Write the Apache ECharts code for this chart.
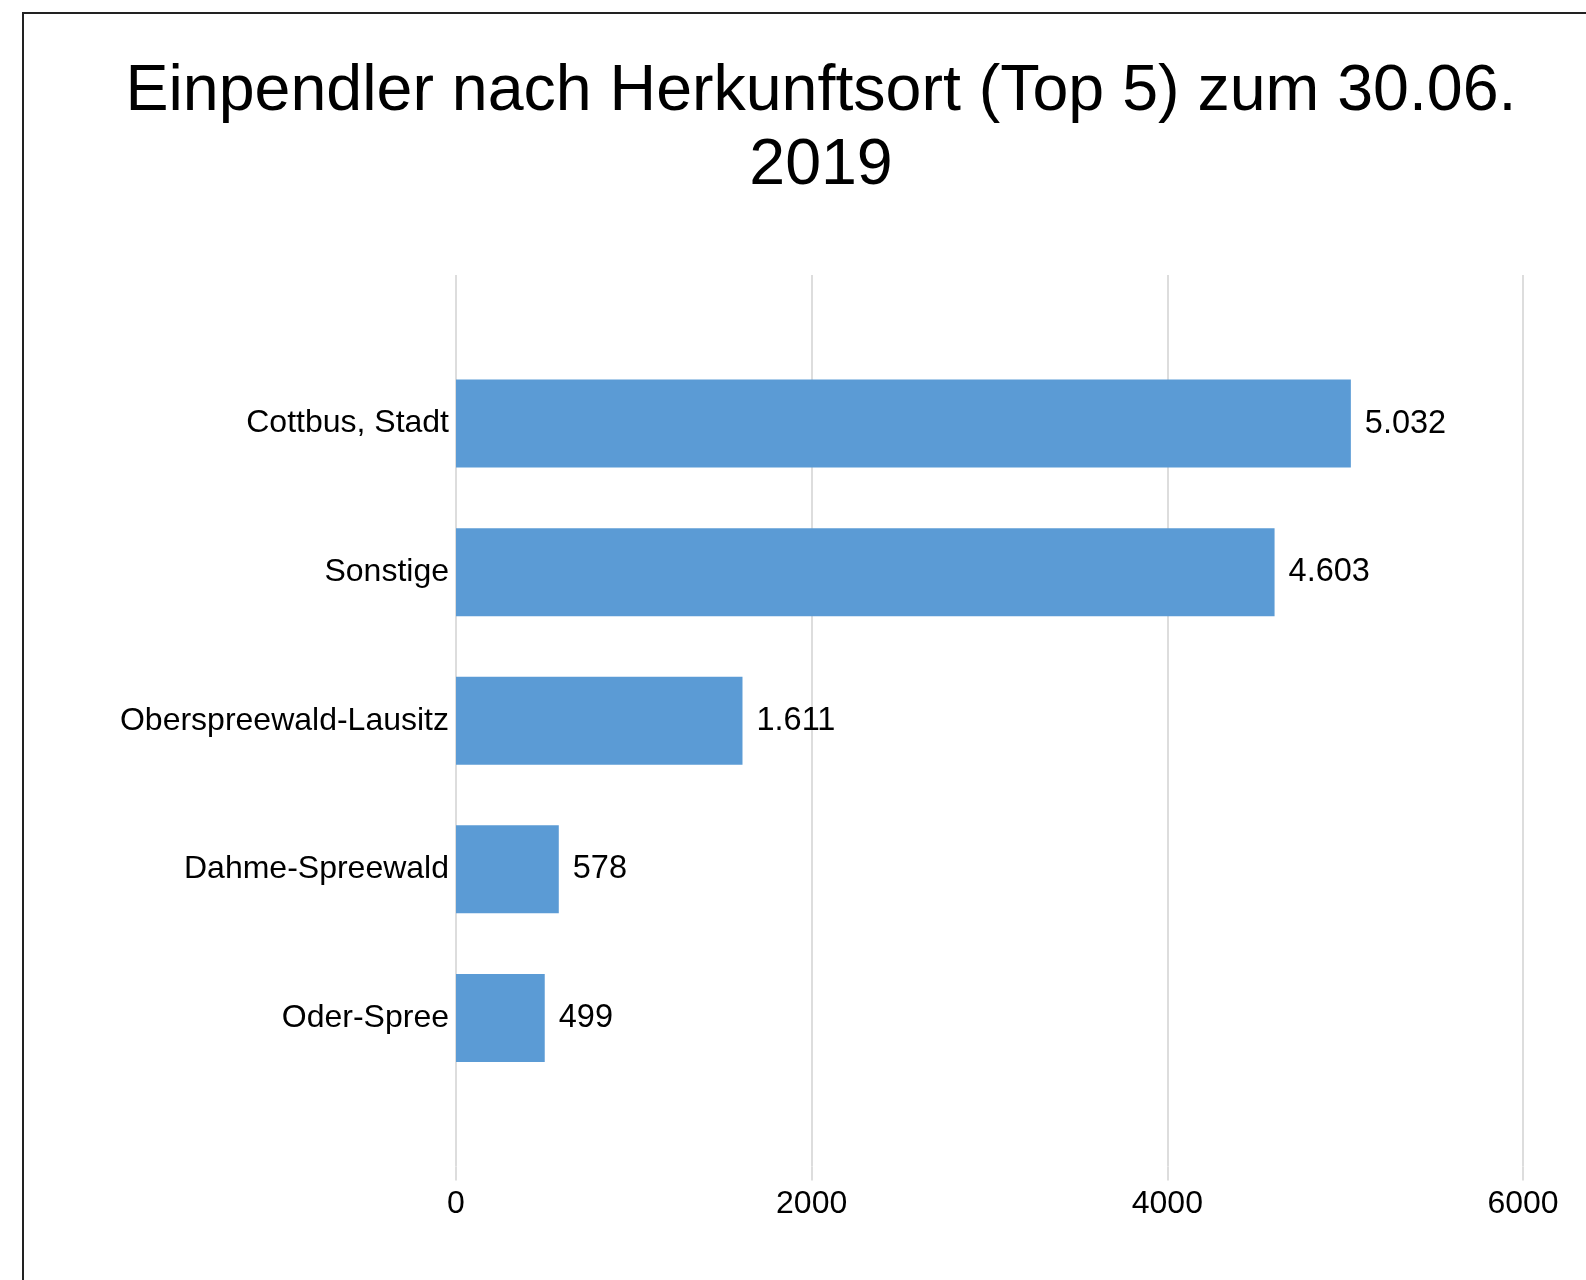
<!DOCTYPE html>
<html>
<head>
<meta charset="utf-8">
<script src="https://cdn.jsdelivr.net/npm/echarts@6/dist/echarts.min.js"></script>
<style>
html,body{margin:0;padding:0;background:#fff;}
#chart{width:1586px;height:1280px;}
</style>
</head>
<body>
<div id="chart"></div>
<script>
const titleText = 'Einpendler nach Herkunftsort (Top 5) zum 30.06.\n2019';
const categories = ['Cottbus, Stadt', 'Sonstige', 'Oberspreewald-Lausitz', 'Dahme-Spreewald', 'Oder-Spree'];
const values = [5032, 4603, 1611, 578, 499];
const xTicks = [0, 2000, 4000, 6000];

const paddedCats = [''].concat(categories, ['']);
const paddedVals = [null].concat(values, [null]);

function fmtDE(v){ return String(v).replace(/\B(?=(\d{3})+(?!\d))/g, '.'); }

const chart = echarts.init(document.getElementById('chart'), null, {renderer:'canvas'});
const FONT = '"Liberation Sans", Arial, sans-serif';
chart.setOption({
  animation:false,
  backgroundColor:'#fff',
  title:{
    text:titleText,
    left:816, top:50, textAlign:'center',
    textStyle:{fontFamily:FONT, fontSize:64.5, fontWeight:'normal', color:'#000', lineHeight:74}
  },
  graphic:[{
    type:'rect', silent:true, z:100,
    shape:{x:23, y:13, width:1600, height:1300},
    style:{fill:'none', stroke:'#222', lineWidth:2}
  }],
  grid:{left:456, right:63, top:275, bottom:113.5, containLabel:false},
  xAxis:{
    type:'value', min:xTicks[0], max:xTicks[xTicks.length-1], interval:2000,
    axisLine:{show:false},
    axisTick:{show:true, length:14, lineStyle:{color:'#ddd', width:2}},
    axisLabel:{fontFamily:FONT, fontSize:32, color:'#000', margin:22, formatter:v => String(v)},
    splitLine:{show:true, lineStyle:{color:'#ddd', width:2}}
  },
  yAxis:{
    type:'category', data:paddedCats, inverse:true, boundaryGap:false,
    axisLine:{show:false}, axisTick:{show:false}, splitLine:{show:false},
    axisLabel:{fontFamily:FONT, fontSize:32, color:'#000', margin:7}
  },
  series:[{
    type:'bar', data:paddedVals, barWidth:88,
    itemStyle:{color:'#5B9BD5'},
    label:{show:true, position:'right', distance:14, fontFamily:FONT, fontSize:32.5, color:'#000',
      formatter:p => fmtDE(p.value)}
  }]
});
</script>
</body>
</html>
